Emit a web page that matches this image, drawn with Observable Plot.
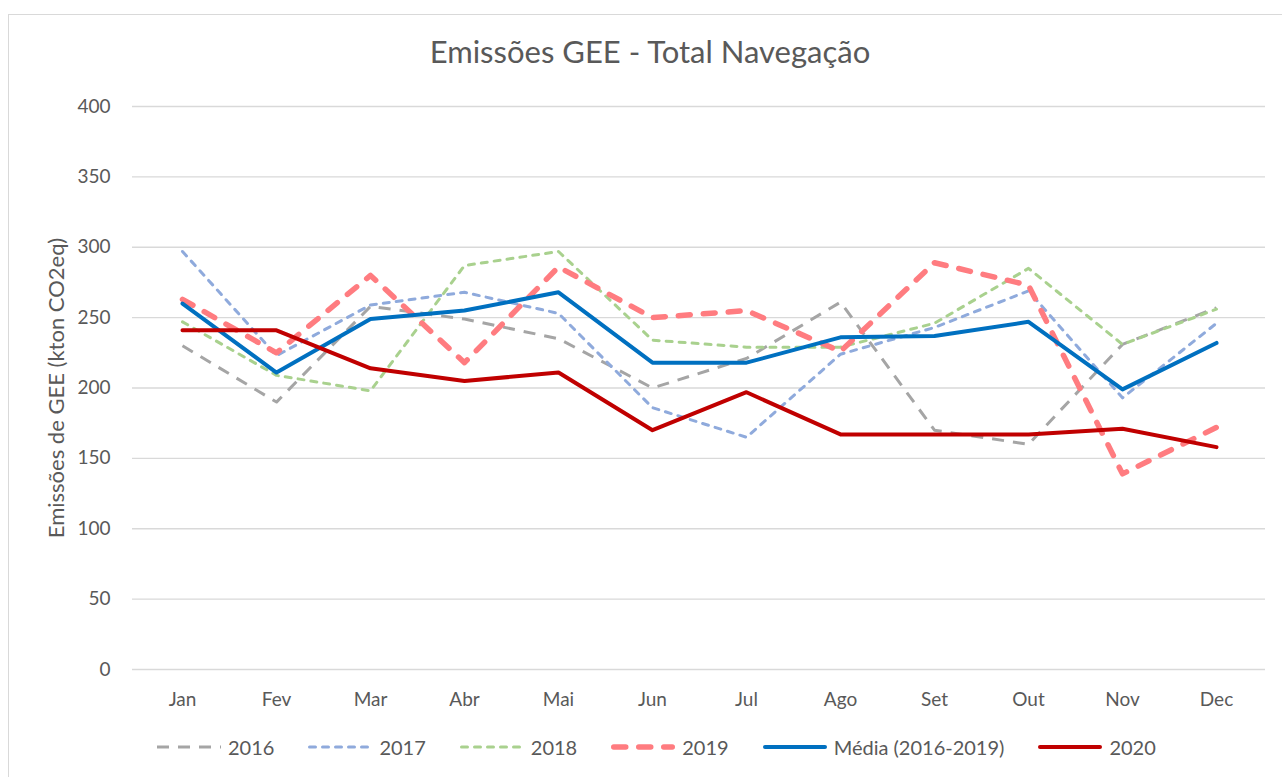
<!DOCTYPE html>
<html>
<head>
<meta charset="utf-8">
<script src="https://cdn.jsdelivr.net/npm/d3@7"></script>
<script src="https://cdn.jsdelivr.net/npm/@observablehq/plot@0.6"></script>
<style>
  html, body { margin: 0; padding: 0; background: #fff; }
  body { width: 1282px; height: 777px; position: relative; overflow: hidden; font-family: Lato, "Open Sans", sans-serif; color: #595959; }
  #frame { position: absolute; left: 8px; top: 14px; width: 1290px; height: 790px; border: 1.5px solid #D9D9D9; box-sizing: border-box; }
  #chart { position: absolute; left: 0; top: 0; }
  #title { position: absolute; left: 0; top: 36px; width: 1300px; text-align: center; font-size: 31px; line-height: 31px; color: #595959; }
  #legend { position: absolute; left: 157px; top: 735px; display: flex; align-items: center; gap: 34px; font-size: 20px; line-height: 24px; color: #595959; }
  .item { display: flex; align-items: center; gap: 7px; }
  .item svg { display: block; }
</style>
</head>
<body>
<div id="frame"></div>
<div id="chart"></div>
<div id="title">Emissões GEE - Total Navegação</div>
<div id="legend"></div>
<script>
const months = ["Jan","Fev","Mar","Abr","Mai","Jun","Jul","Ago","Set","Out","Nov","Dec"];
const s2016 = [230,190,258,249,235,200,221,261,170,160,231,257];
const s2017 = [297,223,259,268,253,186,165,224,243,269,193,246];
const s2018 = [247,209,198,287,297,234,229,229,246,285,231,256];
const s2019 = [263,225,280,218,286,250,255,226,289,273,139,172];
const media = [260,211,249,255,268,218,218,236,237,247,199,232];
const s2020 = [241,241,214,205,211,170,197,167,167,167,171,158];
const yTicks = [0,50,100,150,200,250,300,350,400];
const yLabel = "Emissões de GEE (kton CO2eq)";

const series = [
  {name: "2016", values: s2016, stroke: "#A5A5A5", width: 3, dash: "12,9", cap: "butt"},
  {name: "2017", values: s2017, stroke: "#8FAADC", width: 3, dash: "6,7", cap: "round"},
  {name: "2018", values: s2018, stroke: "#A9D18E", width: 3, dash: "6,7", cap: "round"},
  {name: "2019", values: s2019, stroke: "#FF7C80", width: 5.5, dash: "12,13", cap: "round"},
  {name: "Média (2016-2019)", values: media, stroke: "#0070C0", width: 4, dash: null, cap: "round"},
  {name: "2020", values: s2020, stroke: "#C00000", width: 4, dash: null, cap: "round"}
];

const lineMarks = series.map(s => Plot.line(
  months.map((m, i) => ({month: m, value: s.values[i]})),
  {x: "month", y: "value", stroke: s.stroke, strokeWidth: s.width,
   strokeDasharray: s.dash || undefined, strokeLinecap: s.cap, strokeLinejoin: "round"}
));

const chart = Plot.plot({
  width: 1282,
  height: 777,
  marginLeft: 132,
  marginRight: 17,
  marginTop: 106,
  marginBottom: 108,
  style: {fontFamily: "Lato, 'Open Sans', sans-serif", fontSize: "19px", color: "#595959", background: "transparent"},
  x: {type: "point", domain: months, padding: 0.5, label: null},
  y: {domain: [0, 400], label: null},
  marks: [
    Plot.ruleY(yTicks, {stroke: "#D9D9D9", strokeWidth: 1.3}),
    Plot.axisY({ticks: yTicks, tickSize: 0, tickPadding: 22, label: null}),
    Plot.axisX({tickSize: 0, tickPadding: 23, label: null}),
    Plot.text([yLabel], {frameAnchor: "left", textAnchor: "middle", lineAnchor: "middle", dx: -76, rotate: -90, fontSize: 22, fill: "#595959", text: d => d}),
    ...lineMarks
  ]
});
document.getElementById("chart").appendChild(chart);

const legend = document.getElementById("legend");
series.forEach(s => {
  const item = document.createElement("div");
  item.className = "item";
  const ns = "http://www.w3.org/2000/svg";
  const svg = document.createElementNS(ns, "svg");
  svg.setAttribute("width", 64);
  svg.setAttribute("height", 12);
  const line = document.createElementNS(ns, "line");
  const inset = s.cap === "round" ? s.width / 2 : 0;
  line.setAttribute("x1", inset);
  line.setAttribute("x2", 64 - inset);
  line.setAttribute("y1", 6);
  line.setAttribute("y2", 6);
  line.setAttribute("stroke", s.stroke);
  line.setAttribute("stroke-width", s.width);
  line.setAttribute("stroke-linecap", s.cap);
  if (s.dash) line.setAttribute("stroke-dasharray", s.dash);
  svg.appendChild(line);
  const label = document.createElement("span");
  label.textContent = s.name;
  item.appendChild(svg);
  item.appendChild(label);
  legend.appendChild(item);
});
</script>
</body>
</html>
